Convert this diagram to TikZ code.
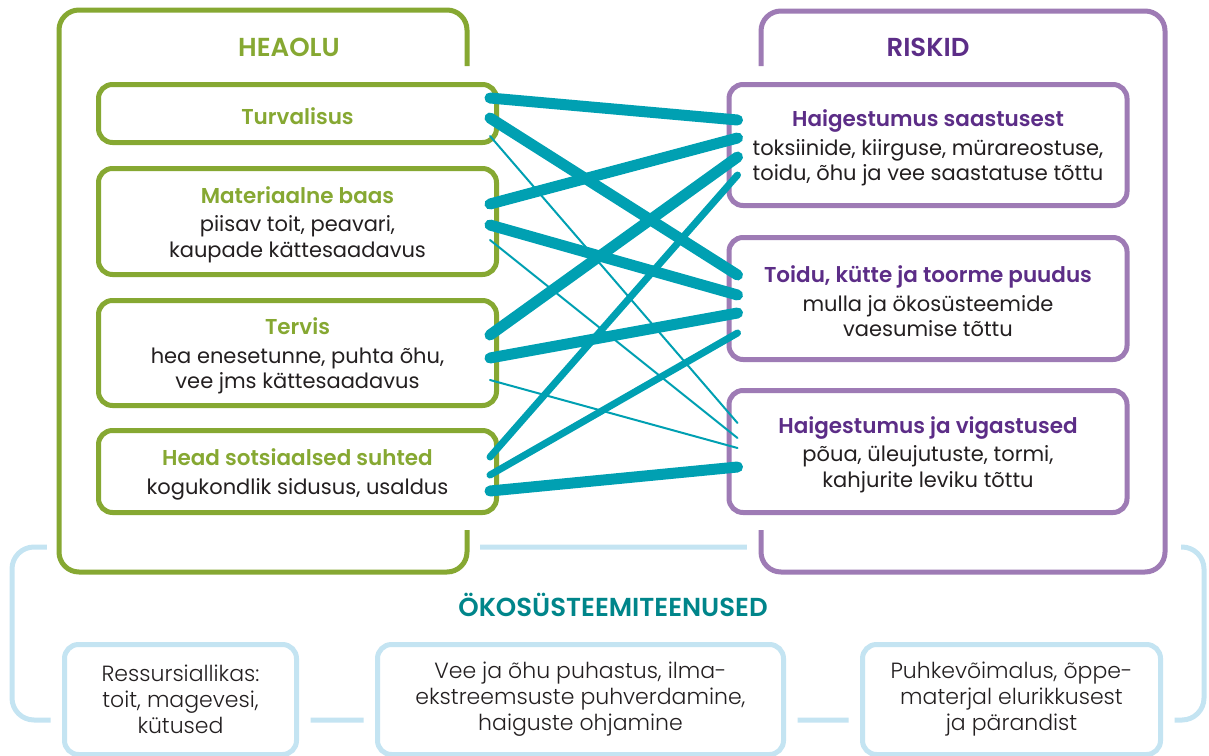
\documentclass[tikz,border=0pt]{standalone}
\usepackage{fontspec}
\setmainfont{Poppins}[BoldFont={Poppins SemiBold}]
\newfontfamily\lightfont{Poppins Light}
\usepackage{xcolor}
\usepackage{tikz}
\usetikzlibrary{positioning}
\definecolor{HeaGreen}{HTML}{86A832}
\definecolor{RiskFrame}{HTML}{9E7BB5}
\definecolor{RiskText}{HTML}{5C2D87}
\definecolor{TealLink}{HTML}{00A0B2}
\definecolor{EcoTeal}{HTML}{00858A}
\definecolor{SvcBlue}{HTML}{C4E4F2}
\definecolor{TextBlack}{HTML}{231F20}
\newcommand{\heatitle}[1]{\rule{0pt}{23pt}\textcolor{HeaGreen}{\fontsize{21.5}{25}\selectfont\bfseries #1}}
\newcommand{\risktitle}[1]{\rule{0pt}{23pt}\textcolor{RiskText}{\fontsize{21.5}{25}\selectfont\bfseries #1}}

\begin{document}
\begin{tikzpicture}[x=1pt, y=-1pt, node distance=21pt]
    \tikzstyle{heabox} = [rectangle, draw=HeaGreen, fill=white, line width=5pt, rounded corners=14pt, minimum width=398pt, align=center, text=TextBlack, font=\fontsize{21}{25.5}\selectfont]
    \tikzstyle{riskbox} = [heabox, draw=RiskFrame]
    \tikzstyle{svcbox} = [rectangle, draw=SvcBlue, fill=white, line width=5pt, rounded corners=14pt, minimum height=110pt, align=center, text=TextBlack, font=\lightfont\fontsize{22}{26}\selectfont, preaction={draw=white, line width=28pt}]
    \tikzstyle{heading} = [font=\bfseries\fontsize{26}{30}\selectfont]
    \tikzstyle{link} = [draw, TealLink, line cap=round, line width=11pt]
    \tikzstyle{midlink} = [link, line width=7pt]
    \tikzstyle{thinlink} = [link, line width=2pt]

    \useasboundingbox (0,0) rectangle (1209,755);
    \clip (0,0) rectangle (1209,755);

    % outer frames
    \draw [SvcBlue, line width=5pt, rounded corners=22pt] (12,547) rectangle (1204,720);
    \fill [white] (47,0) rectangle (480,584);
    \fill [white] (747,0) rectangle (1181,584);
    \draw [HeaGreen, line width=5pt, rounded corners=20pt] (467,66) -- (467,10) -- (59,10) -- (59,572) -- (467,572) -- (467,530);
    \draw [RiskFrame, line width=5pt, rounded corners=20pt] (761,66) -- (761,11) -- (1165,11) -- (1165,572) -- (761,572) -- (761,530);

    \node [heading, text=HeaGreen] (heaolu) at (289,47) {HEAOLU};
    \node [heading, text=RiskText] (riskid) at (928,47) {RISKID};
    \node [heading, text=EcoTeal] (eco) at (613,605) {ÖKOSÜSTEEMITEENUSED};

    \node [heabox, minimum height=58pt] (turv) at (297.5,113.5) {\heatitle{Turvalisus}};
    \node [heabox, minimum height=106pt, below=of turv] (mat) {\heatitle{Materiaalne baas}\\[3pt]piisav toit, peavari,\\kaupade kättesaadavus};
    \node [heabox, minimum height=105pt, below=of mat] (terv) {\heatitle{Tervis}\\[3pt]hea enesetunne, puhta õhu,\\vee jms kättesaadavus};
    \node [heabox, minimum height=82pt, below=20pt of terv] (suhted) {\heatitle{Head sotsiaalsed suhted}\\[3pt]kogukondlik sidusus, usaldus};

    \node [riskbox, minimum height=121pt] (saast) at (928,145) {\risktitle{Haigestumus saastusest}\\[3pt]toksiinide, kiirguse, mürareostuse,\\toidu, õhu ja vee saastatuse tõttu};
    \node [riskbox, minimum height=122pt, below=27pt of saast] (puudus) {\risktitle{Toidu, kütte ja toorme puudus}\\[3pt]mulla ja ökosüsteemide\\vaesumise tõttu};
    \node [riskbox, minimum height=122pt, below=26pt of puudus] (vigast) {\risktitle{Haigestumus ja vigastused}\\[3pt]põua, üleujutuste, tormi,\\kahjurite leviku tõttu};

    \node [svcbox, minimum width=232pt] (ressurss) at (180.5,699.5) {Ressursiallikas:\\toit, magevesi,\\kütused};
    \node [svcbox, minimum width=406pt, right=76pt of ressurss] (puhastus) {Vee ja õhu puhastus, ilma-\\ekstreemsuste puhverdamine,\\haiguste ohjamine};
    \node [svcbox, minimum width=298pt, right=74pt of puhastus] (puhkus) {Puhkevõimalus, õppe-\\materjal elurikkusest\\ja pärandist};

    % links between wellbeing and risks
    \path [link] ([shift={(-9pt,15.5pt)}]turv.east) -- ([shift={(11pt,25pt)}]saast.west);
    \path [link] ([shift={(-9pt,-4.5pt)}]turv.east) -- ([shift={(11pt,23.5pt)}]puudus.west);
    \path [thinlink] ([shift={(-9pt,-22.5pt)}]turv.east) -- ([shift={(11pt,28.5pt)}]vigast.west);
    \path [link] ([shift={(-9pt,17.5pt)}]mat.east) -- ([shift={(11pt,7pt)}]saast.west);
    \path [link] ([shift={(-9pt,-3.5pt)}]mat.east) -- ([shift={(11pt,3.5pt)}]puudus.west);
    \path [thinlink] ([shift={(-9pt,-18.5pt)}]mat.east) -- ([shift={(11pt,13.5pt)}]vigast.west);
    \path [link] ([shift={(-9pt,18pt)}]terv.east) -- ([shift={(11pt,-12pt)}]saast.west);
    \path [link] ([shift={(-9pt,-5pt)}]terv.east) -- ([shift={(11pt,-14.5pt)}]puudus.west);
    \path [thinlink] ([shift={(-9pt,-27pt)}]terv.east) -- ([shift={(11pt,3.5pt)}]vigast.west);
    \path [midlink] ([shift={(-9pt,14.5pt)}]suhted.east) -- ([shift={(11pt,-30pt)}]saast.west);
    \path [midlink] ([shift={(-9pt,-3.5pt)}]suhted.east) -- ([shift={(11pt,-34.5pt)}]puudus.west);
    \path [link] ([shift={(-9pt,-19.5pt)}]suhted.east) -- ([shift={(11pt,-15.5pt)}]vigast.west);
\end{tikzpicture}
\end{document}
